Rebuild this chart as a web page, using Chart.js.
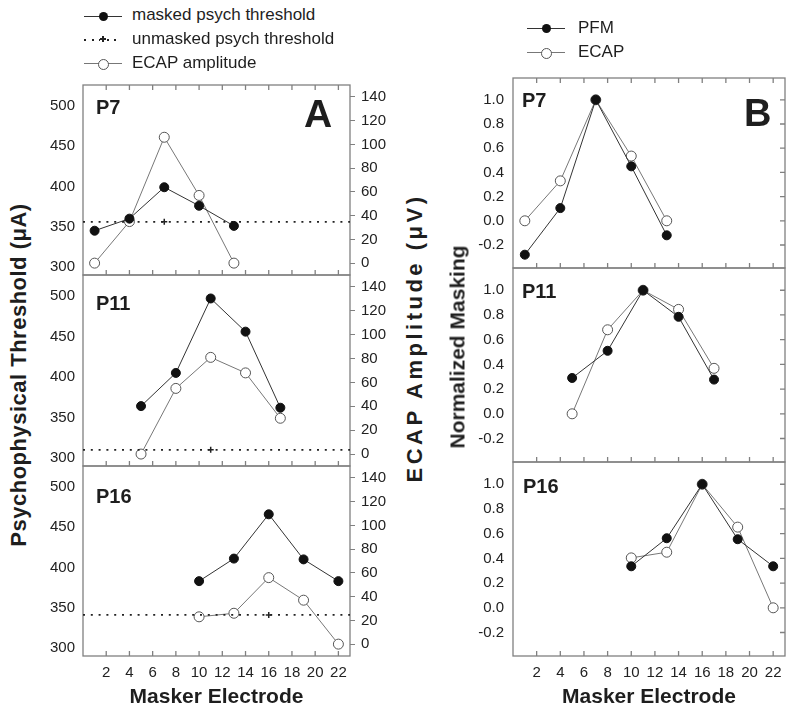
<!DOCTYPE html>
<html>
<head>
<meta charset="utf-8">
<script src="https://cdn.jsdelivr.net/npm/chart.js@4.4.1/dist/chart.umd.min.js"></script>
<style>
  body { margin: 0; background: #fff; }
  #fig { position: relative; width: 800px; height: 720px; overflow: hidden;
         font-family: 'Liberation Sans', Arial, sans-serif; color: #1e1e1e; }
  canvas { position: absolute; }
  .t { position: absolute; white-space: nowrap; line-height: 1; font-weight: bold; }
  .ytitle { position: absolute; white-space: nowrap; font-weight: bold; line-height: 1;
            transform: translate(-50%, -50%) rotate(-90deg); }
  .leg { position: absolute; font-size: 17px; line-height: 20px; white-space: nowrap; }
  .sw { position: absolute; width: 38px; height: 0; border-top: 1px solid #333; }
  .sw.grey { border-color: #777; }
  .sw.dots { border: 0; height: 2px; margin-top: -1px;
             background: repeating-linear-gradient(90deg, #222 0 2px, transparent 2px 7.6px); }
  .mk { position: absolute; left: 14.5px; top: -5px; width: 9px; height: 9px; border-radius: 50%;
        background: #111; }
  .mk.open { background: #fff; border: 1px solid #555; width: 9px; height: 9px; left: 14px; top: -5.5px; }
  .plus { position: absolute; left: 16px; top: -3px; width: 6px; height: 6px; background: #fff; }
  .plus:before, .plus:after { content: ''; position: absolute; background: #222; }
  .plus:before { left: 0; top: 2px; width: 6px; height: 1.5px; }
  .plus:after { left: 2.25px; top: 0; width: 1.5px; height: 6px; }
</style>
</head>
<body>
<div id="fig">
  <canvas id="a1" width="367" height="230" style="left:31px;top:65px"></canvas>
  <canvas id="a2" width="367" height="231" style="left:31px;top:255px"></canvas>
  <canvas id="a3" width="367" height="274" style="left:31px;top:446px"></canvas>
  <canvas id="b1" width="332" height="230" style="left:465px;top:58px"></canvas>
  <canvas id="b2" width="332" height="234" style="left:465px;top:248px"></canvas>
  <canvas id="b3" width="332" height="278" style="left:465px;top:442px"></canvas>

  <!-- legend A -->
  <div class="sw" style="left:84px;top:16px"><div class="mk"></div></div>
  <div class="leg" style="left:132px;top:5px">masked psych threshold</div>
  <div class="sw dots" style="left:84px;top:40px"><div class="plus"></div></div>
  <div class="leg" style="left:132px;top:29px">unmasked psych threshold</div>
  <div class="sw grey" style="left:84px;top:63px"><div class="mk open"></div></div>
  <div class="leg" style="left:132px;top:53px">ECAP amplitude</div>

  <!-- legend B -->
  <div class="sw" style="left:527px;top:28px"><div class="mk"></div></div>
  <div class="leg" style="left:578px;top:18px">PFM</div>
  <div class="sw grey" style="left:527px;top:52px"><div class="mk open"></div></div>
  <div class="leg" style="left:578px;top:42px">ECAP</div>

  <!-- panel labels -->
  <div class="t" style="left:96px;top:97px;font-size:20px">P7</div>
  <div class="t" style="left:96px;top:293px;font-size:20px">P11</div>
  <div class="t" style="left:96px;top:486px;font-size:20px">P16</div>
  <div class="t" style="left:304px;top:94px;font-size:39px">A</div>
  <div class="t" style="left:522px;top:90px;font-size:20px">P7</div>
  <div class="t" style="left:522px;top:281px;font-size:20px">P11</div>
  <div class="t" style="left:523px;top:476px;font-size:20px">P16</div>
  <div class="t" style="left:744px;top:94px;font-size:38px">B</div>

  <!-- axis titles -->
  <div class="ytitle" style="left:19px;top:375px;font-size:22px;letter-spacing:0.5px">Psychophysical Threshold (μA)</div>
  <div class="ytitle" style="left:415px;top:338px;font-size:22px;letter-spacing:3.5px">ECAP Amplitude (μV)</div>
  <div class="ytitle" style="left:457px;top:347px;font-size:21px">Normalized Masking</div>
</div>

<script>
// axis ticks
var xTicks = [2, 4, 6, 8, 10, 12, 14, 16, 18, 20, 22];
var xMin = 0, xMax = 23;
var psychTicks = [300, 350, 400, 450, 500];
var ecapTicks = [0, 20, 40, 60, 80, 100, 120, 140];
var normTicks = [-0.2, 0, 0.2, 0.4, 0.6, 0.8, 1.0];

// panel A: thresholds (uA) and ECAP amplitudes (uV)
var p7Electrodes = [1, 4, 7, 10, 13];
var p7Masked = [345, 360, 399, 376, 351];
var p7Ecap = [0, 35, 106, 57, 0];
var p7Unmasked = 356, p7UnmaskedAt = 7;

var p11Electrodes = [5, 8, 11, 14, 17];
var p11Masked = [364, 405, 497, 456, 362];
var p11Ecap = [0, 55, 81, 68, 30];
var p11Unmasked = 310, p11UnmaskedAt = 11;

var p16Electrodes = [10, 13, 16, 19, 22];
var p16Masked = [383, 411, 466, 410, 383];
var p16Ecap = [23, 26, 56, 37, 0];
var p16Unmasked = 341, p16UnmaskedAt = 16;

// panel B: normalized masking
var p7Pfm = [-0.28, 0.105, 1.0, 0.45, -0.12];
var p7EcapNorm = [0, 0.33, 1.0, 0.535, 0];
var p11Pfm = [0.29, 0.51, 1.0, 0.785, 0.277];
var p11EcapNorm = [0, 0.68, 1.0, 0.845, 0.368];
var p16Pfm = [0.336, 0.563, 1.0, 0.555, 0.336];
var p16EcapNorm = [0.404, 0.45, 1.0, 0.653, 0];

var tickFont = { family: "'Liberation Sans', Arial, sans-serif", size: 15 };
var inkColor = '#222';
var frameColor = '#808080';

function pairs(xs, ys) {
  return xs.map(function (x, i) { return { x: x, y: ys[i] }; });
}

function fixTicks(values) {
  return function (scale) {
    scale.ticks = values.map(function (v) { return { value: v }; });
  };
}

// box round the plot area plus the inward tick marks
var framePlugin = {
  id: 'frame',
  beforeDatasetsDraw: function (chart, args, opts) {
    var a = chart.chartArea, ctx = chart.ctx, x = chart.scales.x;
    ctx.save();
    ctx.strokeStyle = frameColor;
    ctx.lineWidth = 1.3;
    ctx.strokeRect(a.left, a.top, a.right - a.left, a.bottom - a.top);
    ctx.beginPath();
    xTicks.forEach(function (v) {
      var px = x.getPixelForValue(v);
      ctx.moveTo(px, a.bottom); ctx.lineTo(px, a.bottom - 5);
      if (opts.top) { ctx.moveTo(px, a.top); ctx.lineTo(px, a.top + 5); }
    });
    if (opts.right) {
      normTicks.forEach(function (v) {
        var py = chart.scales.y.getPixelForValue(v);
        ctx.moveTo(a.right, py); ctx.lineTo(a.right - 5, py);
      });
    }
    ctx.stroke();
    ctx.restore();
  }
};

function xScale(isBottom) {
  return {
    type: 'linear', min: xMin, max: xMax, display: isBottom,
    afterBuildTicks: fixTicks(xTicks),
    afterFit: function (s) { s.height = isBottom ? 60 : 0; },
    grid: { display: false, drawTicks: false },
    border: { display: false },
    ticks: { padding: 8, color: inkColor, font: tickFont, maxRotation: 0, autoSkip: false },
    title: { display: true, text: 'Masker Electrode', color: '#1e1e1e',
             font: { family: "'Liberation Sans', Arial, sans-serif", size: 21, weight: 'bold' },
             padding: { top: 0, bottom: 6 } }
  };
}

function panelA(id, electrodes, masked, ecap, unmasked, unmaskedAt, isTop, isBottom) {
  new Chart(document.getElementById(id), {
    type: 'line',
    data: {
      datasets: [{
        data: pairs(electrodes, masked), yAxisID: 'y',
        borderColor: '#333', borderWidth: 1,
        pointRadius: 4.5, pointBackgroundColor: '#111', pointBorderColor: '#111', pointBorderWidth: 1
      }, {
        data: [{ x: xMin, y: unmasked }, { x: unmaskedAt, y: unmasked }, { x: xMax, y: unmasked }],
        yAxisID: 'y', borderColor: '#222', borderWidth: 1.8, borderDash: [2, 5.8],
        pointStyle: 'cross', pointRadius: [0, 3, 0], pointBorderColor: '#222', pointBorderWidth: 1.5
      }, {
        data: pairs(electrodes, ecap), yAxisID: 'y2',
        borderColor: '#777', borderWidth: 1,
        pointRadius: 5, pointBackgroundColor: '#fff', pointBorderColor: '#555', pointBorderWidth: 1
      }]
    },
    options: {
      responsive: false, animation: false, events: [],
      layout: { padding: { top: 20, bottom: isBottom ? 4 : 20, left: 0, right: 0 } },
      plugins: { legend: { display: false }, tooltip: { enabled: false }, frame: { top: isTop } },
      scales: {
        x: xScale(isBottom),
        y: {
          type: 'linear', position: 'left', min: 290, max: 526,
          afterBuildTicks: fixTicks(psychTicks),
          afterFit: function (s) { s.width = 52; },
          grid: { display: false, drawTicks: false }, border: { display: false },
          ticks: { padding: 8, color: inkColor, font: tickFont, autoSkip: false }
        },
        y2: {
          type: 'linear', position: 'right', min: -10, max: 150,
          afterBuildTicks: fixTicks(ecapTicks),
          afterFit: function (s) { s.width = 48; },
          grid: { display: true, drawOnChartArea: false, drawTicks: true, tickLength: 5, color: frameColor },
          border: { display: false },
          ticks: { padding: 6, color: inkColor, font: tickFont, autoSkip: false }
        }
      }
    },
    plugins: [framePlugin]
  });
}

function panelB(id, electrodes, pfm, ecapNorm, isTop, isBottom) {
  new Chart(document.getElementById(id), {
    type: 'line',
    data: {
      datasets: [{
        data: pairs(electrodes, pfm),
        borderColor: '#333', borderWidth: 1,
        pointRadius: 4.5, pointBackgroundColor: '#111', pointBorderColor: '#111', pointBorderWidth: 1
      }, {
        data: pairs(electrodes, ecapNorm),
        borderColor: '#777', borderWidth: 1,
        pointRadius: 5, pointBackgroundColor: '#fff', pointBorderColor: '#555', pointBorderWidth: 1
      }]
    },
    options: {
      responsive: false, animation: false, events: [],
      layout: { padding: { top: 20, bottom: isBottom ? 4 : 20, left: 0, right: 12 } },
      plugins: { legend: { display: false }, tooltip: { enabled: false }, frame: { top: isTop, right: true } },
      scales: {
        x: xScale(isBottom),
        y: {
          type: 'linear', position: 'left', min: -0.39, max: 1.18,
          afterBuildTicks: fixTicks(normTicks),
          afterFit: function (s) { s.width = 48; },
          grid: { display: false, drawTicks: false }, border: { display: false },
          ticks: { padding: 9, color: inkColor, font: tickFont, autoSkip: false,
                   callback: function (v) { return Number(v).toFixed(1); } }
        }
      }
    },
    plugins: [framePlugin]
  });
}

panelA('a1', p7Electrodes, p7Masked, p7Ecap, p7Unmasked, p7UnmaskedAt, true, false);
panelA('a2', p11Electrodes, p11Masked, p11Ecap, p11Unmasked, p11UnmaskedAt, false, false);
panelA('a3', p16Electrodes, p16Masked, p16Ecap, p16Unmasked, p16UnmaskedAt, false, true);
panelB('b1', p7Electrodes, p7Pfm, p7EcapNorm, true, false);
panelB('b2', p11Electrodes, p11Pfm, p11EcapNorm, false, false);
panelB('b3', p16Electrodes, p16Pfm, p16EcapNorm, false, true);
</script>
</body>
</html>
